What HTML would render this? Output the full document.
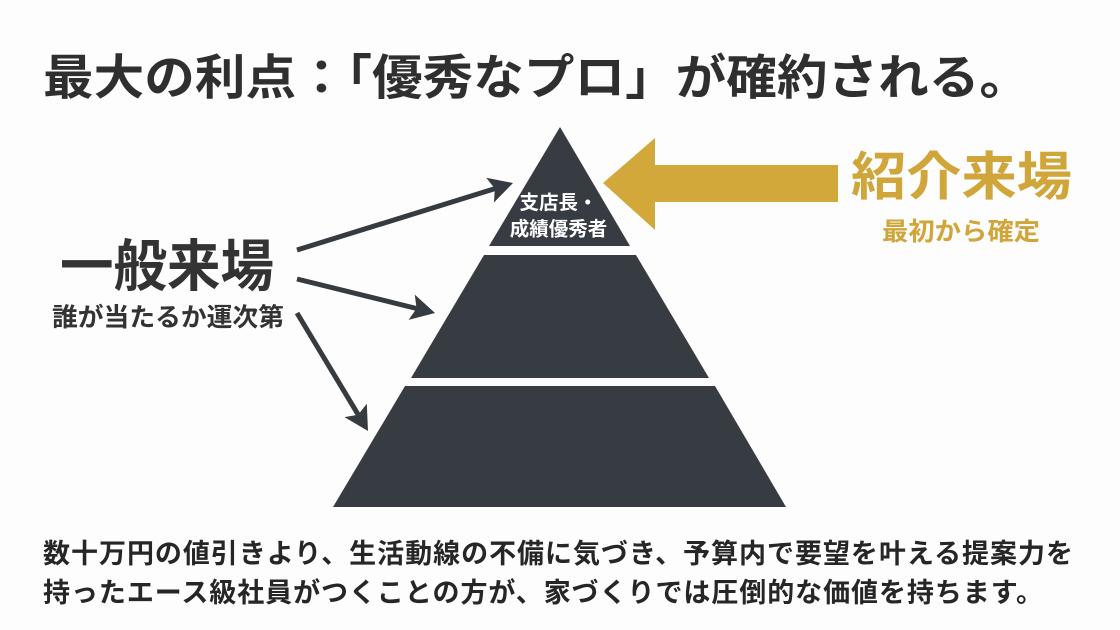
<!DOCTYPE html>
<html>
<head>
<meta charset="utf-8">
<style>
  html,body{margin:0;padding:0;background:#fdfdfd;}
  svg{display:block;}
  text{font-family:"Liberation Sans","Noto Sans CJK JP",sans-serif;font-weight:700;}
</style>
</head>
<body>
<svg width="1120" height="630" viewBox="0 0 1120 630" xmlns="http://www.w3.org/2000/svg">
  <rect x="0" y="0" width="1120" height="630" fill="#fdfdfd"/>

  <!-- Title -->
  <text x="43" y="94" font-size="48" fill="#2f2f2f" textLength="987" lengthAdjust="spacingAndGlyphs">最大の利点：「優秀なプロ」が確約される。</text>

  <!-- Pyramid -->
  <polygon points="560,127 630,246 489,246" fill="#363c41"/>
  <polygon points="484,255 636,255 709,378 411,378" fill="#363c41"/>
  <polygon points="405,386 715,386 786,507 333,507" fill="#363c41"/>

  <text x="558.5" y="209" font-size="19.5" fill="#ffffff" text-anchor="middle">支店長・</text>
  <text x="558.5" y="235.5" font-size="19.5" fill="#ffffff" text-anchor="middle">成績優秀者</text>

  <!-- Gold arrow -->
  <polygon points="603,183 655,138 655,165 838,165 838,202 655,202 655,230" fill="#d3a83a"/>

  <!-- Right labels -->
  <text x="851" y="195" font-size="52" fill="#d0a539" textLength="221" lengthAdjust="spacingAndGlyphs">紹介来場</text>
  <text x="882" y="240" font-size="25" fill="#d0a539" textLength="158" lengthAdjust="spacingAndGlyphs">最初から確定</text>

  <!-- Left labels -->
  <text x="60" y="286" font-size="56" fill="#333333" textLength="214" lengthAdjust="spacingAndGlyphs">一般来場</text>
  <text x="52" y="326" font-size="25.5" fill="#333333" textLength="232" lengthAdjust="spacingAndGlyphs">誰が当たるか運次第</text>

  <!-- Dark arrows -->
  <g stroke="#363b40" stroke-width="5" stroke-linecap="butt" fill="none">
    <line x1="297" y1="250" x2="495" y2="188.6"/>
    <line x1="297" y1="279" x2="416.5" y2="308.5"/>
    <line x1="297" y1="313" x2="358.2" y2="414.7"/>
  </g>
  <g fill="#363b40">
    <polygon points="513,183 493.9,202.5 494.85,188.6 486.2,177.7"/>
    <polygon points="435,313 408.6,319.9 416.55,308.46 414.8,294.6"/>
    <polygon points="368,431 344.5,417.1 358.2,414.7 366.8,403.7"/>
  </g>

  <!-- Bottom text -->
  <text x="43" y="563" font-size="27" fill="#262626" textLength="1030" lengthAdjust="spacing">数十万円の値引きより、生活動線の不備に気づき、予算内で要望を叶える提案力を</text>
  <text x="43" y="602" font-size="27" fill="#262626" textLength="1000" lengthAdjust="spacing">持ったエース級社員がつくことの方が、家づくりでは圧倒的な価値を持ちます。</text>
</svg>
</body>
</html>
